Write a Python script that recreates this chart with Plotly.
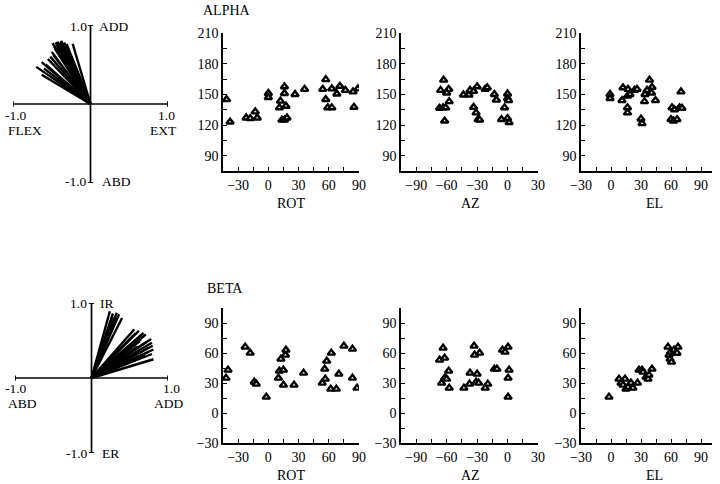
import plotly.graph_objects as go

W, H = 720, 484
FONT = "Times New Roman, Liberation Serif, serif"

# ---------------- data ----------------
# top-left vector plot (FLEX/EXT vs ADD/ABD), vector tips
alpha_vec_x = [-0.49, -0.45, -0.43, -0.40, -0.38, -0.36, -0.33, -0.30, -0.23, -0.42,
               -0.46, -0.50, -0.55, -0.63, -0.70, -0.63, -0.58, -0.48, -0.40, -0.35,
               -0.44, -0.38, -0.34, -0.31, -0.41, -0.52, -0.60, -0.28, -0.47, -0.39]
alpha_vec_y = [0.77, 0.78, 0.79, 0.78, 0.77, 0.75, 0.74, 0.72, 0.76, 0.72,
               0.70, 0.66, 0.57, 0.53, 0.47, 0.37, 0.50, 0.62, 0.68, 0.70,
               0.75, 0.80, 0.78, 0.76, 0.74, 0.60, 0.45, 0.67, 0.73, 0.71]

# bottom-left vector plot (ABD/ADD vs IR/ER)
beta_vec_x = [0.24, 0.28, 0.33, 0.36, 0.40, 0.30, 0.26, 0.31, 0.27,
              0.56, 0.62, 0.68, 0.71, 0.78, 0.79, 0.80, 0.81, 0.79, 0.81,
              0.63, 0.54, 0.74, 0.67, 0.60, 0.72, 0.75, 0.70, 0.65, 0.58]
beta_vec_y = [0.89, 0.86, 0.87, 0.85, 0.80, 0.78, 0.72, 0.82, 0.80,
              0.65, 0.63, 0.60, 0.58, 0.52, 0.47, 0.43, 0.38, 0.32, 0.25,
              0.49, 0.56, 0.40, 0.36, 0.42, 0.48, 0.35, 0.30, 0.52, 0.60]

# ALPHA scatter panels
alpha_rot_x = [-41.5, -38, -22, -18, -13, -11, 0, 0, 12, 11, 13.5, 16, 16, 16, 17.5, 18.5,
               26.5, 36, 54, 57, 57, 59, 63, 63, 68, 71, 76.5, 84, 85, 89]
alpha_rot_y = [145, 123, 127, 126.5, 133, 127, 151, 147, 143.5, 137, 125, 125, 157.5, 151,
               138.5, 127, 150, 155, 155, 164.5, 145, 137, 137, 155.5, 150.5, 158, 154,
               152.5, 137.5, 155.5]

alpha_az_x = [-63, -66, -58, -60, -57.5, -67, -63.5, -61, -62, -43.5, -38, -37, -33.5, -30,
              -33.5, -31, -29, -27.5, -22, -20, -13, -11, -6, -3, 0, 0, 1, 0, 1.5]
alpha_az_y = [164, 154, 155, 151.5, 143, 136.5, 137, 137, 124, 149.5, 149.5, 154, 153, 157.5,
              137.5, 132, 125.5, 125, 155, 156.5, 150, 144.5, 125.5, 137, 150.5, 146, 144,
              126.5, 122.5]

alpha_el_x = [-1, -1, 12, 11, 17, 16.5, 19, 16.5, 16.5, 23.5, 26, 30, 31, 33.5, 34, 36, 38.5,
              41, 40.5, 44.5, 61, 63.5, 60, 62.5, 66, 68.5, 71, 70]
alpha_el_y = [150, 146, 156.5, 144, 155, 148.5, 150, 137, 132, 154, 155, 126, 121.5, 143, 150,
              154, 164, 157, 151.5, 144, 137, 135, 125.5, 124, 125.5, 137, 136.5, 152.5]

# BETA scatter panels
beta_rot_x = [-42, -40, -23, -18, -14, -12, -2, 10, 11, 15, 12.5, 15, 17, 17.5, 25.5, 35,
              53.5, 56, 56.5, 58, 62.5, 62, 67.5, 70, 75, 83.5, 83.5, 88]
beta_rot_y = [35, 43, 66, 60, 31, 29, 16, 35, 42, 43, 54, 28, 58, 63, 28, 40, 30, 44, 34,
              52, 60, 24, 24, 39, 67, 64, 35, 25]

beta_az_x = [-63.5, -67, -62, -58, -65, -62, -60, -57.5, -43, -37.5, -37, -33, -32.5, -27.5,
             -30, -31, -28.5, -22, -19.5, -13, -10.5, -5, -2.5, 0.5, 1.5, 0.5, 0.5]
beta_az_y = [65, 53, 55, 42, 30, 35, 34, 25, 25, 29, 40, 67, 58, 60, 39, 31, 30, 25, 29, 44,
             44, 63, 61, 66, 43, 35, 16]

beta_el_x = [-2, 8, 14, 10, 12, 15, 17, 20, 22, 26.5, 28, 31, 32, 35, 37, 38, 41, 57, 58, 59,
             60.5, 59.5, 63, 65.5, 67, 66]
beta_el_y = [16, 34, 34, 30, 28, 24, 26, 30, 25, 30, 43, 43, 41, 36, 34, 38, 44, 66, 58, 54,
             51, 61, 63, 60, 66, 60]

# axis ticks / ranges
rot_ticks = [-30, 0, 30, 60, 90]
az_ticks = [-90, -60, -30, 0, 30]
el_ticks = [-30, 0, 30, 60, 90]
alpha_yticks = [90, 120, 150, 180, 210]
beta_yticks = [-30, 0, 30, 60, 90]


# ---------------- helpers ----------------
def dx(a, b):
    return [a / W, b / W]


def dy(top, bottom):
    return [1 - bottom / H, 1 - top / H]


fig = go.Figure()
layout = dict(
    template="none",
    width=W, height=H, margin=dict(l=0, r=0, t=0, b=0, pad=0), autosize=False,
    paper_bgcolor="white", plot_bgcolor="rgba(0,0,0,0)", showlegend=False,
    font=dict(family=FONT, size=14, color="black"),
)
annotations = []


def scatter_axes(n, xdom, ydom, xrange, yrange, xticks, yticks):
    common = dict(showline=True, linecolor="black", linewidth=1.6, ticks="inside",
                  ticklen=4, tickwidth=1.4, tickcolor="black", showgrid=False,
                  zeroline=False, automargin=False,
                  tickfont=dict(family=FONT, size=14, color="black"),
                  minor=dict(dtick=15, tick0=0, ticks="inside", ticklen=4, tickwidth=1.4,
                             tickcolor="black", showgrid=False))
    layout[f"xaxis{n}"] = dict(domain=xdom, range=xrange, tickvals=xticks,
                               anchor=f"y{n}", **common)
    layout[f"yaxis{n}"] = dict(domain=ydom, range=yrange, tickvals=yticks,
                               anchor=f"x{n}", **common)


def add_scatter(n, xs, ys):
    fig.add_trace(go.Scatter(x=xs, y=ys, mode="markers", xaxis=f"x{n}", yaxis=f"y{n}",
                             marker=dict(symbol="triangle-up", size=6.5, color="white",
                                         line=dict(color="black", width=2.4)),
                             hoverinfo="skip"))


def vector_axes(n, xdom, ydom):
    layout[f"xaxis{n}"] = dict(domain=xdom, range=[-1, 1], visible=False,
                               anchor=f"y{n}", automargin=False)
    layout[f"yaxis{n}"] = dict(domain=ydom, range=[-1, 1], visible=False,
                               anchor=f"x{n}", automargin=False)


def add_vectors(n, vx, vy):
    xs, ys = [], []
    for a, b in zip(vx, vy):
        xs += [0, a, None]
        ys += [0, b, None]
    fig.add_trace(go.Scatter(x=xs, y=ys, mode="lines", xaxis=f"x{n}", yaxis=f"y{n}",
                             line=dict(color="black", width=2.4), hoverinfo="skip"))
    # cross axes with end ticks
    t = 0.035
    cx = [-1, 1, None, 0, 0, None, -1, -1, None, 1, 1, None, -t, t, None, -t, t]
    cy = [0, 0, None, -1, 1, None, -t, t, None, -t, t, None, 1, 1, None, -1, -1]
    fig.add_trace(go.Scatter(x=cx, y=cy, mode="lines", xaxis=f"x{n}", yaxis=f"y{n}",
                             line=dict(color="black", width=1.7), hoverinfo="skip"))


def paper_text(x, y, text, xanchor="center", size=14):
    annotations.append(dict(x=x / W, y=1 - y / H, xref="paper", yref="paper", text=text,
                            showarrow=False, xanchor=xanchor, yanchor="middle",
                            borderpad=0, font=dict(family=FONT, size=size)))


# ---------------- top row ----------------
vector_axes(1, dx(13, 168), dy(25, 183))
add_vectors(1, alpha_vec_x, alpha_vec_y)
paper_text(88, 27, "1.0", "right", 13.5)
paper_text(98, 27, "ADD", "left", 13.5)
paper_text(16, 115, "-1.0", "center", 13.5)
paper_text(25, 130, "FLEX", "center", 13.5)
paper_text(166, 115, "1.0", "center", 13.5)
paper_text(163, 130, "EXT", "center", 13.5)
paper_text(88, 182, "-1.0", "right", 13.5)
paper_text(101, 182, "ABD", "left", 13.5)

scatter_axes(2, dx(223, 359), dy(33, 171), [-45, 90], [75, 210], rot_ticks, alpha_yticks)
scatter_axes(3, dx(401, 538), dy(33, 171), [-105, 30], [75, 210], az_ticks, alpha_yticks)
scatter_axes(4, dx(581, 712), dy(33, 171), [-30, 101], [75, 210], el_ticks, alpha_yticks)
add_scatter(2, alpha_rot_x, alpha_rot_y)
add_scatter(3, alpha_az_x, alpha_az_y)
add_scatter(4, alpha_el_x, alpha_el_y)

paper_text(202, 10, "ALPHA", xanchor="left")
paper_text(291, 203, "ROT")
paper_text(470, 203, "AZ")
paper_text(654, 203, "EL")

# ---------------- bottom row ----------------
vector_axes(5, dx(15, 168), dy(303, 453))
add_vectors(5, beta_vec_x, beta_vec_y)
paper_text(88, 303, "1.0", "right", 13.5)
paper_text(99, 303, "IR", "left", 13.5)
paper_text(16, 388, "-1.0", "center", 13.5)
paper_text(22, 403, "ABD", "center", 13.5)
paper_text(171, 388, "1.0", "center", 13.5)
paper_text(168, 403, "ADD", "center", 13.5)
paper_text(89, 453, "-1.0", "right", 13.5)
paper_text(101, 453, "ER", "left", 13.5)

scatter_axes(6, dx(223, 359), dy(308, 443), [-45, 90], [-30, 105], rot_ticks, beta_yticks)
scatter_axes(7, dx(401, 538), dy(308, 443), [-105, 30], [-30, 105], az_ticks, beta_yticks)
scatter_axes(8, dx(581, 712), dy(308, 443), [-30, 101], [-30, 105], el_ticks, beta_yticks)
add_scatter(6, beta_rot_x, beta_rot_y)
add_scatter(7, beta_az_x, beta_az_y)
add_scatter(8, beta_el_x, beta_el_y)

paper_text(206, 288, "BETA", xanchor="left")
paper_text(291, 475, "ROT")
paper_text(470, 475, "AZ")
paper_text(654, 475, "EL")

layout["annotations"] = annotations
fig.update_layout(**layout)
fig.write_html("out.html", config={"displayModeBar": False},
               post_script="document.body.style.margin='0';document.body.style.padding='0';")
